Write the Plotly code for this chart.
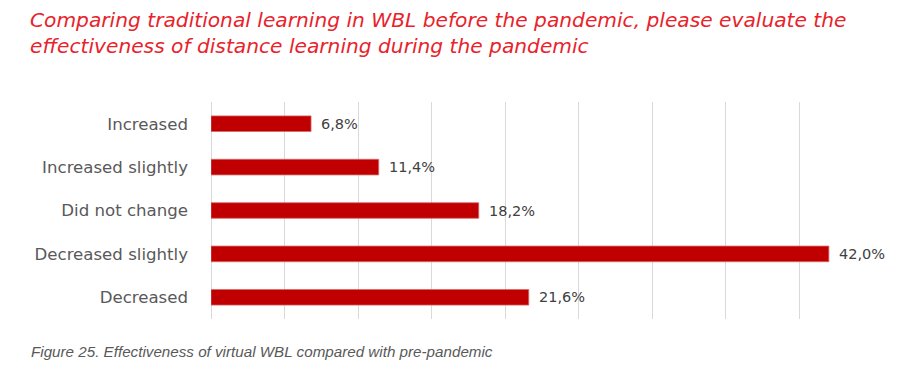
import plotly.graph_objects as go

categories = ["Increased", "Increased slightly", "Did not change", "Decreased slightly", "Decreased"]
values = [6.8, 11.4, 18.2, 42.0, 21.6]
value_labels = ["6,8%", "11,4%", "18,2%", "42,0%", "21,6%"]

title_text = ("Comparing traditional learning in WBL before the pandemic, please evaluate the<br>"
              "effectiveness of distance learning during the pandemic")
caption_text = "Figure 25. Effectiveness of virtual WBL compared with pre-pandemic"

W, H = 913, 373
L, R, T, B = 211, 39.6, 102, 54
PW, PH = W - L - R, H - T - B


def px_x(x):  # window pixel -> paper x
    return (x - L) / PW


def px_y(y):  # window pixel -> paper y
    return 1 + (T - y) / PH


fig = go.Figure()
fig.add_trace(go.Bar(
    x=values, y=categories, orientation="h",
    marker=dict(color="#C00000", line=dict(color="#D46A6A", width=0.8)),
    width=0.36,
    hoverinfo="skip",
))

for c, v, t in zip(categories, values, value_labels):
    fig.add_annotation(x=v, y=c, text=t, showarrow=False, xanchor="left", xshift=8,
                       font=dict(family="DejaVu Sans", size=14.5, color="#404040"))

fig.add_annotation(xref="paper", yref="paper", x=px_x(28), y=px_y(6),
                   xanchor="left", yanchor="top",
                   text=title_text, showarrow=False, align="left",
                   font=dict(family="DejaVu Sans", size=20.2, color="#E8232B", style="italic"))

fig.add_annotation(xref="paper", yref="paper", x=px_x(29), y=px_y(351),
                   xanchor="left", yanchor="middle",
                   text=caption_text, showarrow=False, align="left",
                   font=dict(family="Liberation Sans", size=15.2, color="#595959", style="italic"))

fig.update_layout(
    width=W, height=H,
    margin=dict(l=L, r=R, t=T, b=B, autoexpand=False),
    paper_bgcolor="white", plot_bgcolor="white",
    showlegend=False,
    xaxis=dict(range=[0, 45], dtick=5, showgrid=True, gridcolor="#D9D9D9", gridwidth=1,
               zeroline=True, zerolinecolor="#D9D9D9", zerolinewidth=1,
               showticklabels=False, ticks="", showline=False, fixedrange=True),
    yaxis=dict(categoryorder="array", categoryarray=categories, autorange="reversed",
               showgrid=False, zeroline=False, showline=False, ticks="",
               ticklabelstandoff=22, automargin=False,
               tickfont=dict(family="DejaVu Sans", size=16.6, color="#595959"), fixedrange=True),
)

fig.write_html("out.html", config={"displayModeBar": False},
               post_script="document.body.style.margin='0px';")
